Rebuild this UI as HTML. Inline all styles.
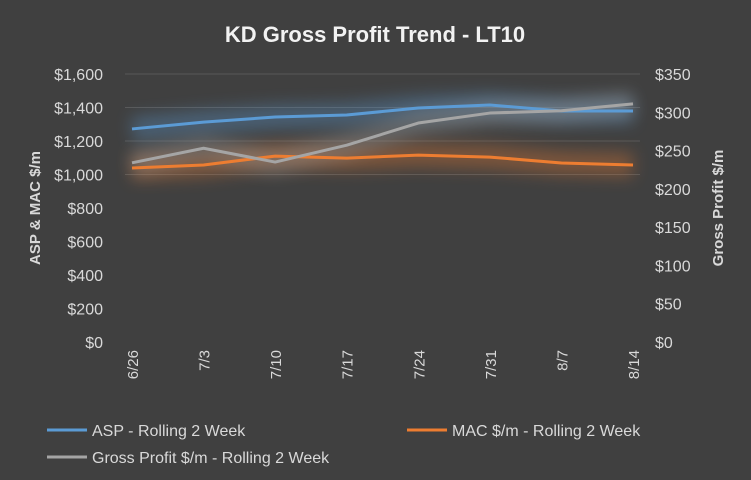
<!DOCTYPE html>
<html><head><meta charset="utf-8"><style>
html,body{margin:0;background:#404040;overflow:hidden;width:751px;height:480px;}
svg{display:block;}
svg text{font-family:"Liberation Sans",sans-serif;}
</style></head><body>
<svg width="751" height="480" xmlns="http://www.w3.org/2000/svg">
<defs>
<filter id="glow" x="-10%" y="-200%" width="120%" height="500%"><feGaussianBlur stdDeviation="8"/></filter>
</defs>
<rect width="751" height="480" fill="#404040"/>
<text x="375" y="42" text-anchor="middle" fill="#f2f2f2" font-size="22" font-weight="bold">KD Gross Profit Trend - LT10</text>
<g id="grid"></g><g id="glows"></g><g id="lines"></g><g id="axes"></g>
<text transform="translate(40,208) rotate(-90)" text-anchor="middle" fill="#d9d9d9" font-size="15" font-weight="bold">ASP &amp; MAC $/m</text>
<text transform="translate(723,208) rotate(-90)" text-anchor="middle" fill="#d9d9d9" font-size="15" font-weight="bold">Gross Profit $/m</text>
<g>
<line x1="47" y1="430" x2="87" y2="430" stroke="#5b9bd5" stroke-width="3"/>
<text x="92" y="436" fill="#d9d9d9" font-size="16">ASP - Rolling 2 Week</text>
<line x1="407" y1="430" x2="447" y2="430" stroke="#ed7d31" stroke-width="3"/>
<text x="452" y="436" fill="#d9d9d9" font-size="16">MAC $/m - Rolling 2 Week</text>
<line x1="47" y1="457" x2="87" y2="457" stroke="#a5a5a5" stroke-width="3"/>
<text x="92" y="463" fill="#d9d9d9" font-size="16">Gross Profit $/m - Rolling 2 Week</text>
</g>
</svg>
<script>
const categories=["6/26","7/3","7/10","7/17","7/24","7/31","8/7","8/14"];
const aspValues=[1272,1313,1343,1355,1397,1415,1379,1379];
const macValues=[1039,1057,1110,1098,1116,1104,1069,1057];
const gpValues=[234,253,235,257,286,299,302,311];
const leftTicks=[0,200,400,600,800,1000,1200,1400,1600];
const rightTicks=[0,50,100,150,200,250,300,350];
const NS="http://www.w3.org/2000/svg";
const top0=74,bot=342,x0=132,x1=633;
const yL=v=>bot-(v/1600)*(bot-top0);
const yR=v=>bot-(v/350)*(bot-top0);
const xC=i=>x0+i*(x1-x0)/(categories.length-1);
function mk(t,a,p){const e=document.createElementNS(NS,t);for(const k in a)e.setAttribute(k,a[k]);document.getElementById(p).appendChild(e);return e;}
leftTicks.forEach(v=>{
 if(v>=1000){const g=mk('line',{x1:125,x2:640,y1:yL(v),y2:yL(v),stroke:'#595959','stroke-width':1},'grid');
 
 }
 const t=mk('text',{x:103,y:yL(v)+6,'text-anchor':'end',fill:'#d9d9d9','font-size':16},'axes');t.textContent='$'+v.toLocaleString('en-US');
 
 
});
rightTicks.forEach(v=>{
 const t=mk('text',{x:655,y:yR(v)+6,fill:'#d9d9d9','font-size':16},'axes');t.textContent='$'+v;
 
 
});
categories.forEach((c,i)=>{
 const t=mk('text',{transform:`translate(${xC(i)+6},350) rotate(-90)`,'text-anchor':'end',fill:'#d9d9d9','font-size':15},'axes');t.textContent=c;
 
 
});
function series(vals,yf,col,name){
 const d=vals.map((v,i)=>(i?'L':'M')+xC(i)+','+yf(v)).join(' ');
 const g=mk('path',{d:d,stroke:col,'stroke-width':24,fill:'none',opacity:0.35,filter:'url(#glow)'},'glows');
 
 
 const p=mk('path',{d:d,stroke:col,'stroke-width':3,fill:'none','stroke-linejoin':'round'},'lines');
 
 
}
series(aspValues,yL,'#5b9bd5','asp');
series(macValues,yL,'#ed7d31','mac');
series(gpValues,yR,'#a5a5a5','gross-profit');
</script>
</body></html>
